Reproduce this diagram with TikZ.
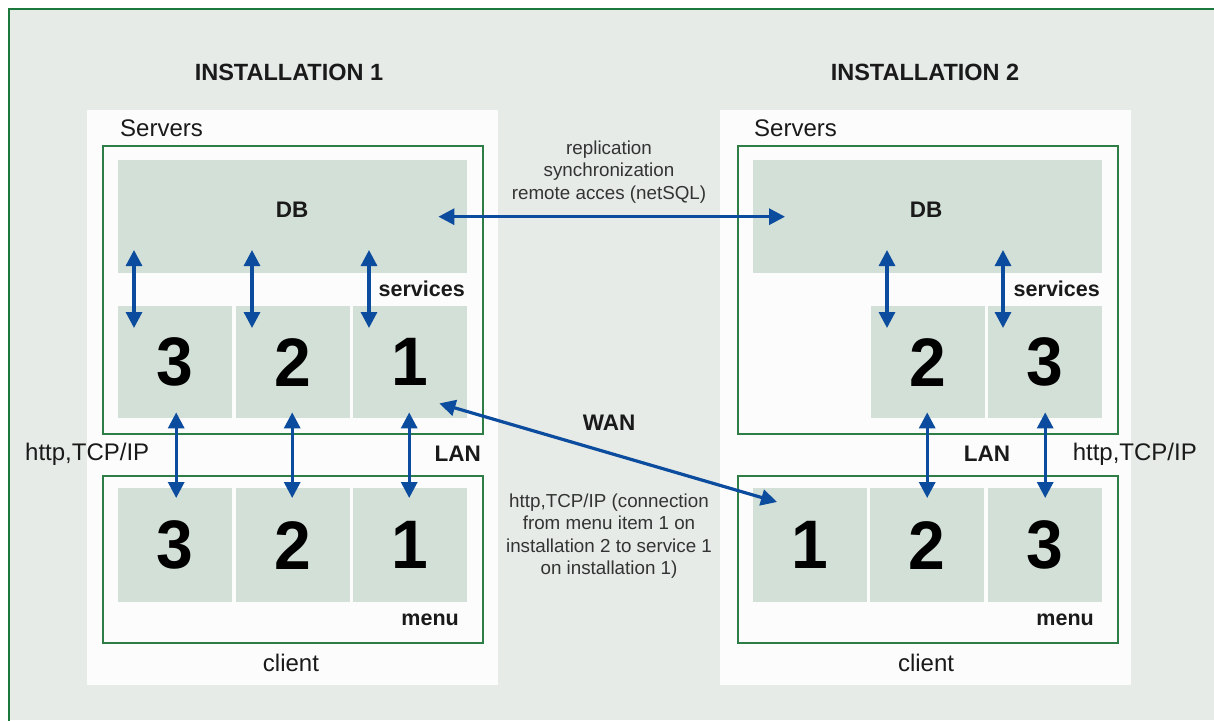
\documentclass[tikz,border=0pt]{standalone}
\usepackage{fontspec}
\setmainfont{Liberation Sans}
\usetikzlibrary{arrows.meta,calc}
\definecolor{bgc}{HTML}{E6EBE7}
\definecolor{panelc}{HTML}{FCFCFC}
\definecolor{cellc}{HTML}{D3E0D7}
\definecolor{gline}{HTML}{2E7D46}
\definecolor{oline}{HTML}{1B7A3B}
\definecolor{arrc}{HTML}{0B4C9E}
\definecolor{txtc}{HTML}{1A1A1A}
\definecolor{midc}{HTML}{333333}
\begin{document}
\begin{tikzpicture}[x=1pt,y=-1pt,
  panelbox/.style={fill=panelc,draw=none,minimum width=411pt,minimum height=575pt,anchor=north west,inner sep=0pt},
  greenbox/.style={draw=gline,line width=2pt,fill=none,anchor=north west,inner sep=0pt,minimum width=380pt},
  cell/.style={fill=cellc,draw=none,anchor=north west,inner sep=0pt,minimum width=114pt,minimum height=112pt},
  dbbox/.style={fill=cellc,draw=none,anchor=north west,inner sep=0pt,minimum width=349pt,minimum height=113pt},
  num/.style={font=\fontsize{66}{66}\selectfont\bfseries,text=black,inner sep=0pt,yscale=1.04},
  title/.style={font=\fontsize{23.5}{26}\selectfont\bfseries,text=txtc,inner sep=0pt},
  plain/.style={font=\fontsize{24}{28}\selectfont,text=txtc,inner sep=0pt},
  boldlbl/.style={font=\fontsize{21.5}{24}\selectfont\bfseries,text=txtc,inner sep=0pt},
  biglbl/.style={font=\fontsize{22.5}{24}\selectfont\bfseries,text=txtc,inner sep=0pt},
  midtxt/.style={font=\fontsize{18.8}{22.5}\selectfont,text=midc,align=center,inner sep=0pt},
  arr/.style={{Triangle[length=16pt,width=16pt]}-{Triangle[length=16pt,width=16pt]},line width=3.2pt,draw=arrc}
]
\useasboundingbox (0,0) rectangle (1214,720);
\fill[white] (0,0) rectangle (1214,720);
\fill[bgc] (9,9) rectangle (1214,720);
\draw[oline,line width=2.5pt] (9,722) -- (9,9) -- (1216,9);

% panels
\node[panelbox] (p1) at (87,110) {};
\node[panelbox] (p2) at (720,110) {};

% titles
\node[title] (t1) at (289,72) {INSTALLATION 1};
\node[title] (t2) at (925,72) {INSTALLATION 2};

% ---------- installation 1 ----------
\node[plain,anchor=west] (sv1) at (120,128) {Servers};
\node[greenbox,minimum height=288pt] (g1) at (102,145) {};
\node[dbbox] (db1) at (118,160) {};
\node[biglbl] (dbl1) at (292,210) {DB};
\node[cell] (s13) at (118,306) {};
\node[cell] (s12) at (236,306) {};
\node[cell] (s11) at (353,306) {};
\node[num] at (s13.center) {3};
\node[num] at (s12.center) {2};
\node[num] at (s11.center) {1};
\node[boldlbl,anchor=east] (sl1) at (465,289) {services};

\node[greenbox,minimum height=167pt] (h1) at (102,475) {};
\node[cell,minimum height=114pt] (c13) at (118,488) {};
\node[cell,minimum height=114pt] (c12) at (236,488) {};
\node[cell,minimum height=114pt] (c11) at (353,488) {};
\node[num] at (c13.center) {3};
\node[num] at (c12.center) {2};
\node[num] at (c11.center) {1};
\node[boldlbl,anchor=east] (ml1) at (459,620) {menu};
\node[plain] (cl1) at (291,663) {client};

\node[biglbl,anchor=east] (lan1) at (481,454) {LAN};
\node[plain,anchor=west] (http1) at (25,454) {http,TCP/IP};

% ---------- installation 2 ----------
\node[plain,anchor=west] (sv2) at (754,128) {Servers};
\node[greenbox,minimum height=288pt] (g2) at (737,145) {};
\node[dbbox] (db2) at (753,160) {};
\node[biglbl] (dbl2) at (926,210) {DB};
\node[cell] (s22) at (871,306) {};
\node[cell] (s23) at (988,306) {};
\node[num] at (s22.center) {2};
\node[num] at (s23.center) {3};
\node[boldlbl,anchor=east] (sl2) at (1100,289) {services};

\node[greenbox,minimum height=167pt] (h2) at (737,475) {};
\node[cell,minimum height=114pt] (c21) at (753,488) {};
\node[cell,minimum height=114pt] (c22) at (870,488) {};
\node[cell,minimum height=114pt] (c23) at (988,488) {};
\node[num] at (c21.center) {1};
\node[num] at (c22.center) {2};
\node[num] at (c23.center) {3};
\node[boldlbl,anchor=east] (ml2) at (1094,620) {menu};
\node[plain] (cl2) at (926,663) {client};

\node[biglbl] (lan2) at (987,454) {LAN};
\node[plain,anchor=east] (http2) at (1197,454) {http,TCP/IP};

% ---------- middle texts ----------
\node[midtxt] (rep) at (609,172) {replication\\synchronization\\remote acces (netSQL)};
\node[biglbl] (wan) at (609,423) {WAN};
\node[midtxt] (httpm) at (609,536) {http,TCP/IP (connection\\from menu item 1 on\\installation 2 to service 1\\on installation 1)};

% ---------- arrows ----------
% DB <-> services, installation 1
\draw[arr] ($(s13.north west)+(16,-56)$) -- ($(s13.north west)+(16,22)$);
\draw[arr] ($(s12.north west)+(16,-56)$) -- ($(s12.north west)+(16,22)$);
\draw[arr] ($(s11.north west)+(16,-56)$) -- ($(s11.north west)+(16,22)$);
% DB <-> services, installation 2
\draw[arr] ($(s22.north west)+(16,-56)$) -- ($(s22.north west)+(16,22)$);
\draw[arr] ($(s23.north west)+(15,-56)$) -- ($(s23.north west)+(15,22)$);
% services <-> menu, installation 1
\draw[arr] ($(s13.south)+(1,-6)$) -- ($(c13.north)+(1,10)$);
\draw[arr] ($(s12.south)+(-1,-6)$) -- ($(c12.north)+(-1,10)$);
\draw[arr] ($(s11.south)+(-1,-6)$) -- ($(c11.north)+(-1,10)$);
% services <-> menu, installation 2
\draw[arr] ($(s22.south)+(-1,-6)$) -- ($(c22.north)+(0,10)$);
\draw[arr] ($(s23.south)+(0,-6)$) -- ($(c23.north)+(0,10)$);
% replication
\draw[arr] ($(db1.east)+(-29,0)$) -- ($(db2.west)+(32,0)$);
% WAN
\draw[arr] ($(s11.south east)+(-28,-15)$) -- ($(c21.north west)+(24,14)$);
\end{tikzpicture}
\end{document}
